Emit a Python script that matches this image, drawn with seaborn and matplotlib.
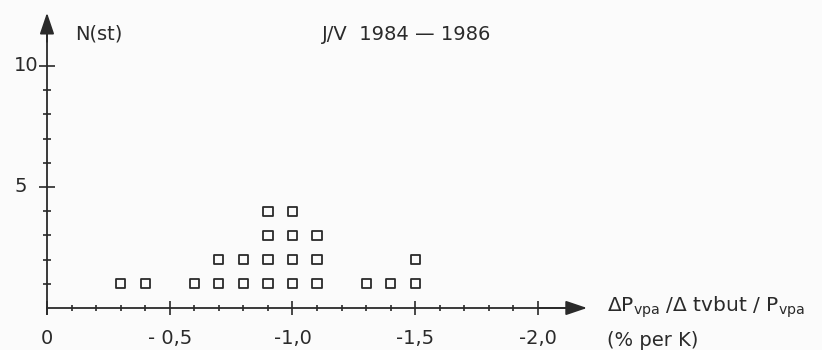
import numpy as np
import pandas as pd
import matplotlib
matplotlib.use("Agg")
import matplotlib.pyplot as plt
import seaborn as sns
from matplotlib.ticker import FixedLocator, NullFormatter

# Relative change of vapour pressure per degree, and number of stations
rates = [-0.3, -0.4, -0.6, -0.7, -0.8, -0.9, -1.0, -1.1, -1.3, -1.4, -1.5]
stations = [1, 1, 1, 2, 2, 4, 4, 3, 1, 1, 2]

x_major = [0.0, -0.5, -1.0, -1.5, -2.0]
x_major_labels = ["0", "- 0,5", "-1,0", "-1,5", "-2,0"]
y_major = [5, 10]
y_major_labels = ["5", "10"]

title = "J/V  1984 \u2014 1986"
y_title = "N(st)"
x_title = r"$\Delta$P$_{\rm vpa}$ /$\Delta$ tvbut / P$_{\rm vpa}$"
x_unit = "(% per K)"

# one square per station, stacked above its rate value
rows = [(r, k) for r, n in zip(rates, stations) for k in range(1, n + 1)]
df = pd.DataFrame(rows, columns=["rate", "count"])

sns.set_theme(style="white")
plt.rcParams["font.family"] = ["DejaVu Sans"]
plt.rcParams["mathtext.fontset"] = "dejavusans"

ink = "#2a2a2a"
paper = "#fbfbfb"
fs = 14

fig = plt.figure(figsize=(8.22, 3.5), dpi=100)
fig.patch.set_facecolor(paper)
ax = fig.add_axes([0, 0, 1, 1])
ax.set_facecolor(paper)

sns.scatterplot(data=df, x="rate", y="count", marker="s", s=44,
                facecolor="none", edgecolor=ink, linewidth=1.3,
                legend=False, ax=ax, zorder=3)

# x runs from 0 towards more negative values on the right
ax.set_xlim(0.1914, -3.157)
ax.set_ylim(-1.736, 12.727)
ax.set_xlabel("")
ax.set_ylabel("")

# axis lines through the origin
for side in ["top", "right"]:
    ax.spines[side].set_visible(False)
for side in ["left", "bottom"]:
    ax.spines[side].set_position(("data", 0))
    ax.spines[side].set_color(ink)
    ax.spines[side].set_linewidth(1.3)
ax.spines["left"].set_bounds(-0.25, 11.8)
ax.spines["bottom"].set_bounds(0, -2.12)

arrow = dict(arrowstyle="-|>,head_length=0.65,head_width=0.22",
             color=ink, lw=1.3, mutation_scale=20, shrinkA=0, shrinkB=0)
ax.annotate("", xy=(-2.2, 0), xytext=(-2.0, 0), arrowprops=arrow)
ax.annotate("", xy=(0, 12.2), xytext=(0, 11.0), arrowprops=arrow)

# ticks
x_minor = [round(-0.1 * i, 1) for i in range(1, 21) if i % 5]
y_minor = [i for i in range(1, 11) if i % 5]
ax.xaxis.set_major_locator(FixedLocator(x_major))
ax.xaxis.set_minor_locator(FixedLocator(x_minor))
ax.set_xticklabels(x_major_labels)
ax.yaxis.set_major_locator(FixedLocator(y_major))
ax.yaxis.set_minor_locator(FixedLocator(y_minor))
ax.yaxis.set_major_formatter(NullFormatter())

ax.tick_params(axis="both", which="both", direction="inout", color=ink,
               width=1.2, bottom=True, left=True)
ax.tick_params(axis="x", which="major", length=10, pad=10,
               labelsize=fs, labelcolor=ink)
ax.tick_params(axis="x", which="minor", length=5)
ax.tick_params(axis="y", which="major", length=12)
ax.tick_params(axis="y", which="minor", length=6)

# y labels sit left of the axis (positive side of the inverted x scale)
ax.text(0.035, y_major[1], y_major_labels[1], ha="right", va="center",
        fontsize=fs, color=ink)
ax.text(0.08, y_major[0], y_major_labels[0], ha="right", va="center",
        fontsize=fs, color=ink)

fig.text(75 / 822, 1 - 34 / 350, y_title, ha="left", va="center",
         fontsize=fs, color=ink)
fig.text(322 / 822, 1 - 35 / 350, title, ha="left", va="center",
         fontsize=fs, color=ink)
fig.text(607 / 822, 1 - 307 / 350, x_title, ha="left", va="center",
         fontsize=fs + 0.5, color=ink)
fig.text(607 / 822, 1 - 341 / 350, x_unit, ha="left", va="center",
         fontsize=fs, color=ink)

fig.savefig("out.png", dpi=100, facecolor=paper)
